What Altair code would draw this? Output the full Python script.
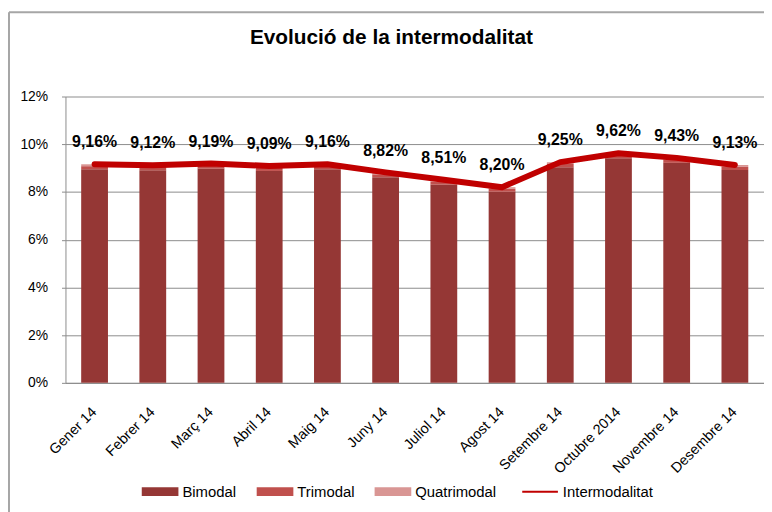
import altair as alt
import pandas as pd

months = ["Gener 14", "Febrer 14", "Març 14", "Abril 14", "Maig 14", "Juny 14",
          "Juliol 14", "Agost 14", "Setembre 14", "Octubre 2014", "Novembre 14", "Desembre 14"]
intermodalitat = [9.16, 9.12, 9.19, 9.09, 9.16, 8.82, 8.51, 8.20, 9.25, 9.62, 9.43, 9.13]
bimodal = [8.95, 8.91, 8.98, 8.88, 8.95, 8.62, 8.31, 8.01, 9.04, 9.41, 9.22, 8.92]
trimodal = [0.13, 0.13, 0.13, 0.13, 0.13, 0.12, 0.12, 0.12, 0.13, 0.13, 0.13, 0.13]
quatrimodal = [0.08, 0.08, 0.08, 0.08, 0.08, 0.08, 0.08, 0.07, 0.08, 0.08, 0.08, 0.08]
series = ["Bimodal", "Trimodal", "Quatrimodal"]
series_colors = ["#953735", "#C0504D", "#D99694"]
line_name = "Intermodalitat"
line_color = "#C00000"
y_ticks = [0, 2, 4, 6, 8, 10, 12]
title_text = "Evolució de la intermodalitat"

rows = []
for i, m in enumerate(months):
    for k, (s, vals) in enumerate(zip(series, [bimodal, trimodal, quatrimodal])):
        rows.append({"mes": m, "serie": s, "valor": vals[i], "ordre": k})
df_bars = pd.DataFrame(rows)
df_line = pd.DataFrame({"mes": months, "total": intermodalitat, "nom": line_name})

FONT = "Liberation Sans"
GRAY = "#8C8C8C"

x_enc = alt.X("mes:N", sort=months,
              scale=alt.Scale(paddingInner=0.54, paddingOuter=0.27),
              axis=alt.Axis(title=None, labelAngle=-45, labelAlign="right",
                            labelBaseline="middle", labelPadding=27, ticks=False,
                            domainColor=GRAY, labelFontSize=14.5, labelColor="black",
                            grid=False))
y_scale = alt.Scale(domain=[0, 12], nice=False)

bars = alt.Chart(df_bars).mark_bar().encode(
    x=x_enc,
    y=alt.Y("valor:Q", stack="zero", scale=y_scale,
            axis=alt.Axis(values=y_ticks, labelExpr="datum.value + '%'", title=None,
                          grid=True, gridColor=GRAY, domainColor=GRAY, tickColor=GRAY,
                          tickSize=4, labelPadding=14, labelFontSize=14,
                          labelColor="black")),
    color=alt.Color("serie:N", scale=alt.Scale(domain=series, range=series_colors),
                    legend=alt.Legend(title=None, orient="none", legendX=77, legendY=380,
                                      direction="horizontal",
                                      symbolType="M-1,-0.243H1V0.243H-1Z",
                                      symbolSize=1369, symbolStrokeWidth=0,
                                      labelFontSize=15, labelOffset=4, columnPadding=20,
                                      labelColor="black")),
    order=alt.Order("ordre:Q"),
)

line = alt.Chart(df_line).mark_line(strokeWidth=6, strokeCap="round", strokeJoin="round").encode(
    x=alt.X("mes:N", sort=months),
    y=alt.Y("total:Q", scale=y_scale),
    stroke=alt.Stroke("nom:N", scale=alt.Scale(domain=[line_name], range=[line_color]),
                      legend=alt.Legend(title=None, orient="none", legendX=460, legendY=380,
                                        symbolType="stroke", symbolSize=1296,
                                        symbolStrokeWidth=2, labelFontSize=15,
                                        labelOffset=4, labelColor="black")),
)

labels = alt.Chart(df_line).mark_text(fontWeight="bold", fontSize=16, dy=-22,
                                      color="black", font=FONT).transform_calculate(
    etiqueta="replace(format(datum.total, '.2f'), '.', ',') + '%'"
).encode(
    x=alt.X("mes:N", sort=months),
    y=alt.Y("total:Q", scale=y_scale),
    text="etiqueta:N",
)

frame_data = alt.Data(values=[{"t": title_text}])
border_left = alt.Chart(frame_data).mark_rule(color="#A6A6A6", strokeWidth=2).encode(
    x=alt.value(-57), y=alt.value(-85), y2=alt.value(430))
border_top = alt.Chart(frame_data).mark_rule(color="#A6A6A6", strokeWidth=2).encode(
    x=alt.value(-57), x2=alt.value(720), y=alt.value(-85))
title = alt.Chart(frame_data).mark_text(fontSize=21, fontWeight="bold", font=FONT,
                                        color="black", align="center",
                                        baseline="alphabetic").encode(
    x=alt.value(329), y=alt.value(-53), text="t:N")

chart = alt.layer(bars, line, labels, border_left, border_top, title).properties(
    width=705, height=289,
    autosize=alt.AutoSizeParams(type="none"),
    padding={"left": 58, "top": 87, "right": 0, "bottom": 128},
).configure(font=FONT).configure_view(strokeWidth=0)

chart.save("out.html", embed_options={"renderer": "svg", "actions": False})
